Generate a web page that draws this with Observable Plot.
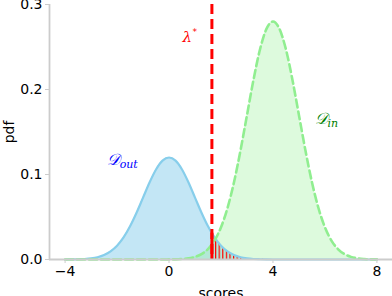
<!DOCTYPE html>
<html>
<head>
<meta charset="utf-8">
<script src="https://cdn.jsdelivr.net/npm/d3@7"></script>
<script src="https://cdn.jsdelivr.net/npm/@observablehq/plot@0.6"></script>
<style>
  html, body { margin: 0; padding: 0; background: #fff; }
  #chart { width: 392px; height: 296px; overflow: hidden; }
</style>
</head>
<body>
<div id="chart"></div>
<script>
// ---- data ----
const scores = [-4, -3.75, -3.5, -3.25, -3, -2.75, -2.5, -2.25, -2, -1.75, -1.5, -1.25, -1, -0.75, -0.5, -0.25,
  0, 0.25, 0.5, 0.75, 1, 1.25, 1.5, 1.75, 2, 2.25, 2.5, 2.75, 3, 3.25, 3.5, 3.75,
  4, 4.25, 4.5, 4.75, 5, 5.25, 5.5, 5.75, 6, 6.25, 6.5, 6.75, 7, 7.25, 7.5, 7.75, 8];
const pdfOut = [0.0000, 0.0001, 0.0003, 0.0006, 0.0013, 0.0027, 0.0053, 0.0096, 0.0162, 0.0259, 0.0390, 0.0550, 0.0728, 0.0906, 0.1059, 0.1163,
  0.1200, 0.1163, 0.1059, 0.0906, 0.0728, 0.0550, 0.0390, 0.0259, 0.0162, 0.0096, 0.0053, 0.0027, 0.0013, 0.0006, 0.0003, 0.0001,
  0.0000, 0, 0, 0, 0, 0, 0, 0, 0, 0, 0, 0, 0, 0, 0, 0, 0];
const pdfIn = [0, 0, 0, 0, 0, 0, 0, 0, 0, 0, 0, 0, 0, 0, 0, 0,
  0.0001, 0.0002, 0.0006, 0.0014, 0.0031, 0.0064, 0.0123, 0.0223, 0.0379, 0.0606, 0.0909, 0.1282, 0.1698, 0.2113, 0.2471, 0.2713,
  0.2800, 0.2713, 0.2471, 0.2113, 0.1698, 0.1282, 0.0909, 0.0606, 0.0379, 0.0223, 0.0123, 0.0064, 0.0031, 0.0014, 0.0006, 0.0002, 0.0001];
const lambdaStar = 1.65;
const lambdaPdfOut = 0.031;
const xTicks = [-4, 0, 4, 8];
const yTicks = [0, 0.1, 0.2, 0.3];
const labels = [
  {x: -2.4, y: 0.117, main: "𝒟", sub: "out", color: "#0000ff"},
  {x: 5.6, y: 0.165, main: "𝒟", sub: "in", color: "#008000"}
];
const lambdaLabel = [{x: 0.52, y: 0.262, main: "λ", sup: "*", color: "#ff0000"}];

const outData = scores.map((s, i) => ({x: s, y: pdfOut[i]}));
const inData = scores.map((s, i) => ({x: s, y: pdfIn[i]}));

const axisColor = "#cccccc";
const svg = Plot.plot({
  width: 392,
  height: 296,
  marginLeft: 49,
  marginRight: 0,
  marginTop: 4,
  marginBottom: 37,
  style: {fontFamily: "DejaVu Sans", fontSize: "14px", background: "#fff", color: "#000", overflow: "visible"},
  x: {domain: [-4.6, 8.6]},
  y: {domain: [0, 0.3]},
  marks: [
    Plot.areaY(outData, {x: "x", y: "y", fill: "#87ceeb", fillOpacity: 0.5, curve: "monotone-x"}),
    Plot.areaY(inData, {x: "x", y: "y", fill: "#90ee90", fillOpacity: 0.3, curve: "monotone-x"}),
    Plot.areaY(outData, {x: "x", y: "y", fill: "url(#hatch)", curve: "monotone-x"}),
    Plot.lineY(outData, {x: "x", y: "y", stroke: "#87ceeb", strokeWidth: 2.2, curve: "monotone-x"}),
    Plot.lineY(inData, {x: "x", y: "y", stroke: "#90ee90", strokeWidth: 2.6, strokeDasharray: "8,4", curve: "monotone-x"}),
    Plot.ruleX([lambdaStar], {y1: 0, y2: lambdaPdfOut, stroke: "#ff0000", strokeWidth: 3}),
    Plot.ruleX([lambdaStar], {y1: 0.3, y2: 0, stroke: "#ff0000", strokeWidth: 3, strokeDasharray: "10,5"}),
    Plot.ruleX([-4.6], {stroke: axisColor, strokeWidth: 1.8}),
    Plot.ruleY([0], {stroke: axisColor, strokeWidth: 1.8}),
    Plot.axisY({ticks: yTicks, tickFormat: d3.format(".1f"), tickSize: 4, tickPadding: 3, stroke: axisColor,
      label: "pdf", labelAnchor: "center", labelArrow: "none", labelOffset: 45}),
    Plot.axisX({ticks: xTicks, tickFormat: d => d3.format("d")(d).replace("-", "−"), tickSize: 4, tickPadding: 3, stroke: axisColor,
      label: "scores", labelAnchor: "center", labelArrow: "none", labelOffset: 38}),
    Plot.text(labels, {x: "x", y: "y", text: "main", fill: "color", fontFamily: "DejaVu Serif", fontStyle: "italic", fontSize: 16, textAnchor: "start"}),
    Plot.text(labels, {x: "x", y: "y", text: "sub", fill: "color", fontFamily: "DejaVu Serif", fontStyle: "italic", fontSize: 11, textAnchor: "start", dx: 13, dy: 4}),
    Plot.text(lambdaLabel, {x: "x", y: "y", text: "main", fill: "color", fontFamily: "DejaVu Serif", fontStyle: "italic", fontSize: 15, textAnchor: "start"}),
    Plot.text(lambdaLabel, {x: "x", y: "y", text: "sup", fill: "color", fontFamily: "DejaVu Sans", fontSize: 9, textAnchor: "start", dx: 10, dy: -5})
  ]
});

// hatch pattern and clip to the region right of lambda*
const ns = "http://www.w3.org/2000/svg";
const defs = document.createElementNS(ns, "defs");
const xs = svg.scale("x");
const lx = xs.apply(lambdaStar);
defs.innerHTML = `<pattern id="hatch" patternUnits="userSpaceOnUse" x="${lx}" y="0" width="3.6" height="10">
  <line x1="0.6" x2="0.6" y1="0" y2="10" stroke="#ff0000" stroke-width="1.2"/></pattern>
  <clipPath id="rightOfLambda"><rect x="${lx}" y="0" width="${392 - lx}" height="296"/></clipPath>`;
svg.insertBefore(defs, svg.firstChild);
svg.querySelectorAll('[fill="url(#hatch)"]').forEach(g => g.setAttribute("clip-path", "url(#rightOfLambda)"));
svg.querySelectorAll('[aria-label="y-axis tick label"], [aria-label="x-axis tick label"], [aria-label="y-axis label"], [aria-label="x-axis label"]').forEach(g => g.setAttribute("fill", "#000"));
document.getElementById("chart").appendChild(svg);
</script>
</body>
</html>
